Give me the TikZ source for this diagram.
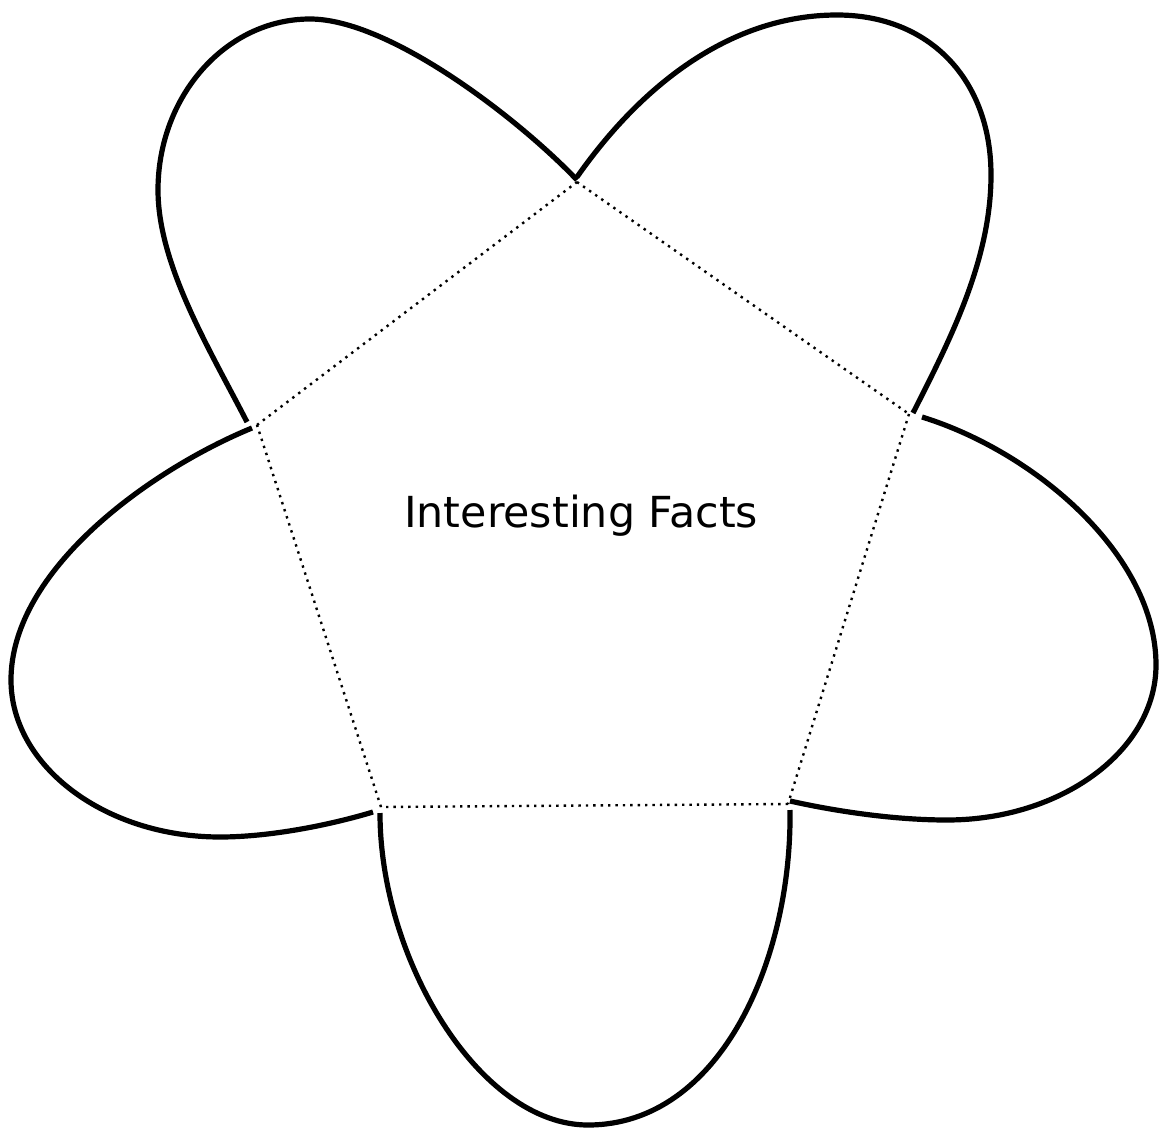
\documentclass[tikz,border=0pt]{standalone}
\usepackage{fontspec}
\setmainfont{DejaVu Sans}
\usepackage{graphicx}
\begin{document}
\begin{tikzpicture}[x=1pt,y=-1pt,
  petal/.style={line width=5.2pt, line cap=butt, line join=round},
  fold/.style={line width=2.4pt, dash pattern=on 2.4pt off 5pt}]
\useasboundingbox[fill=white] (0,0) rectangle (1162,1129);
% pentagon vertices
\coordinate (T) at (577,182);
\coordinate (R) at (909,414);
\coordinate (BR) at (788,804);
\coordinate (BL) at (381,807);
\coordinate (L) at (257,425);
% petal end points
\coordinate (tl1) at (247,422); \coordinate (tl2) at (577,180);
\coordinate (tr1) at (577,177); \coordinate (tr2) at (913,413);
\coordinate (r1) at (922,417);  \coordinate (r2) at (790,801);
\coordinate (b1) at (380,813);  \coordinate (b2) at (790,810);
\coordinate (l1) at (252,428);  \coordinate (l2) at (373,812);
% fold lines
\draw[fold] (T) -- (R);
\draw[fold] (R) -- (BR);
\draw[fold] (BR) -- (BL);
\draw[fold] (BL) -- (L);
\draw[fold] (L) -- (T);
% top-left petal
\draw[petal] (tl1) .. controls (210,350) and (158,265) .. (158,190)
  .. controls (158,96) and (226,19) .. (310,19)
  .. controls (390,19) and (520,120) .. (tl2);
% top-right petal
\draw[petal] (tr1) .. controls (645,80) and (735,15) .. (837,15)
  .. controls (929,15) and (991,79) .. (991,175)
  .. controls (991,260) and (950,340) .. (tr2);
% right petal
\draw[petal] (r1) .. controls (1035,452) and (1156,555) .. (1156,665)
  .. controls (1156,750) and (1062,820) .. (947,820)
  .. controls (890,820) and (830,810) .. (r2);
% bottom petal
\draw[petal] (b1) .. controls (380,960) and (480,1125) .. (588,1125)
  .. controls (720,1125) and (792,960) .. (b2);
% left petal
\draw[petal] (l1) .. controls (150,470) and (11,570) .. (11,680)
  .. controls (11,766) and (105,837) .. (220,837)
  .. controls (270,837) and (330,825) .. (l2);
% title
\node[anchor=base west, inner sep=0pt] (title) at (404,527)
  {\resizebox{354pt}{!}{\fontsize{40}{48}\selectfont Interesting Facts}};
\end{tikzpicture}
\end{document}
